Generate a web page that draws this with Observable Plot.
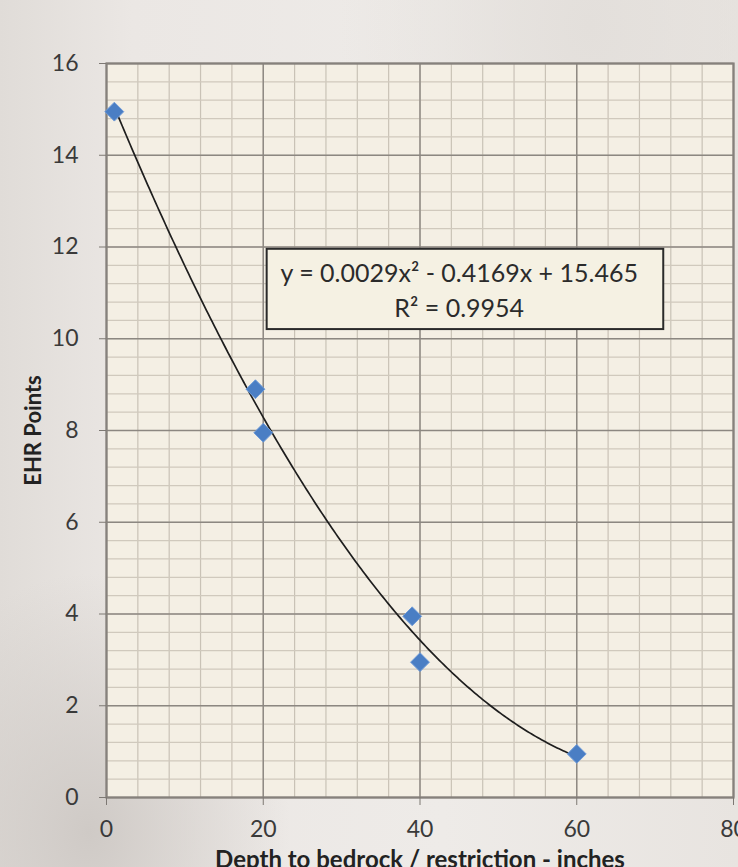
<!DOCTYPE html>
<html>
<head>
<meta charset="utf-8">
<script src="https://cdn.jsdelivr.net/npm/d3@7"></script>
<script src="https://cdn.jsdelivr.net/npm/@observablehq/plot@0.6"></script>
<style>
  html, body { margin: 0; padding: 0; background: #e9e5e2; }
  #chart { width: 738px; height: 867px; overflow: hidden; }
</style>
</head>
<body>
<div id="chart"></div>
<script>
// ---- Data ----
const depthInches = [1, 19, 20, 39, 40, 60];
const ehrPoints = [14.95, 8.9, 7.95, 3.95, 2.95, 0.95];
const xTicks = [0, 20, 40, 60, 80];
const yTicks = [0, 2, 4, 6, 8, 10, 12, 14, 16];
const xMinorStep = 4;
const yMinorStep = 0.4;
// polynomial trendline coefficients shown on the chart (c0 + c1*x + c2*x^2)
const trendCoefficients = [15.465, -0.4169, 0.0029];
const equationLines = ["y = 0.0029x\u00B2 - 0.4169x + 15.465", "R\u00B2 = 0.9954"];
const xTitle = "Depth to bedrock / restriction - inches";
const yTitle = "EHR Points";

// ---- Derived tables ----
const points = depthInches.map((x, i) => ({x, y: ehrPoints[i]}));
const xMin = d3.min(depthInches), xMax = d3.max(depthInches);
const trend = d3.range(xMin, xMax + 1e-9, 0.25).map(x => ({
  x,
  y: trendCoefficients[0] + trendCoefficients[1] * x + trendCoefficients[2] * x * x
}));
const xMinor = d3.range(0, 80 + 1e-9, xMinorStep);
const yMinor = d3.range(0, 16 + 1e-9, yMinorStep);

// equation label box placement (in chart units)
const eqBox = {x1: 20.5, x2: 71.1, y1: 10.2, y2: 11.95};
const eqText = [
  {x: 45.0, y: 11.42, text: equationLines[0]},
  {x: 45.0, y: 10.65, text: equationLines[1]}
];

const font = "Lato, 'Open Sans', sans-serif";

const chart = Plot.plot({
  width: 738,
  height: 867,
  marginLeft: 106,
  marginRight: 5,
  marginTop: 63,
  marginBottom: 70,
  x: {domain: [0, 80]},
  y: {domain: [0, 16]},
  style: {
    fontFamily: font,
    color: "#3a3a3a",
    background: "radial-gradient(ellipse at 12% 96%, #cfcac6 0%, rgba(207,202,198,0) 22%), radial-gradient(ellipse at 80% 3%, #e3dfdb 0%, rgba(227,223,219,0) 30%), linear-gradient(90deg, #e0dcd8 0%, #ebe7e4 18%, #eeebe8 60%, #e8e4e0 100%)"
  },
  marks: [
    Plot.frame({fill: "#f4efe4", stroke: null}),
    Plot.gridX(xMinor, {stroke: "#c9c2b6", strokeOpacity: 1, strokeWidth: 1.2}),
    Plot.gridY(yMinor, {stroke: "#d0c9bd", strokeOpacity: 1, strokeWidth: 1.2}),
    Plot.gridX(xTicks, {stroke: "#8c8781", strokeOpacity: 1, strokeWidth: 1.4}),
    Plot.gridY(yTicks, {stroke: "#8c8781", strokeOpacity: 1, strokeWidth: 1.4}),
    Plot.frame({stroke: "#86817c", strokeWidth: 2.2}),
    Plot.axisX(xTicks, {tickSize: 8, tickPadding: 15, fontSize: 23, label: null, stroke: "#7d7873"}),
    Plot.axisY(yTicks, {tickSize: 7, tickPadding: 21, fontSize: 23, label: null, stroke: "#7d7873"}),
    Plot.text([xTitle], {frameAnchor: "bottom", dy: 70, fontWeight: "bold", fontSize: 24, fill: "#222", textAnchor: "middle"}),
    Plot.text([yTitle], {frameAnchor: "left", dx: -73, rotate: -90, fontWeight: "bold", fontSize: 22, fill: "#222", textAnchor: "middle"}),
    Plot.line(trend, {x: "x", y: "y", stroke: "#1e1e1e", strokeWidth: 1.7}),
    Plot.dot(points, {x: "x", y: "y", symbol: "diamond2", r: 8.5, fill: "#4a7ec4", stroke: "#6f9bd8", strokeWidth: 1}),
    Plot.rect([eqBox], {x1: "x1", x2: "x2", y1: "y1", y2: "y2", fill: "#f5f1e3", stroke: "#2a2a2a", strokeWidth: 2}),
    Plot.text(eqText, {x: "x", y: "y", text: "text", fontSize: 25, fill: "#2b2b2b", textAnchor: "middle"})
  ]
});

document.getElementById("chart").appendChild(chart);
</script>
</body>
</html>
